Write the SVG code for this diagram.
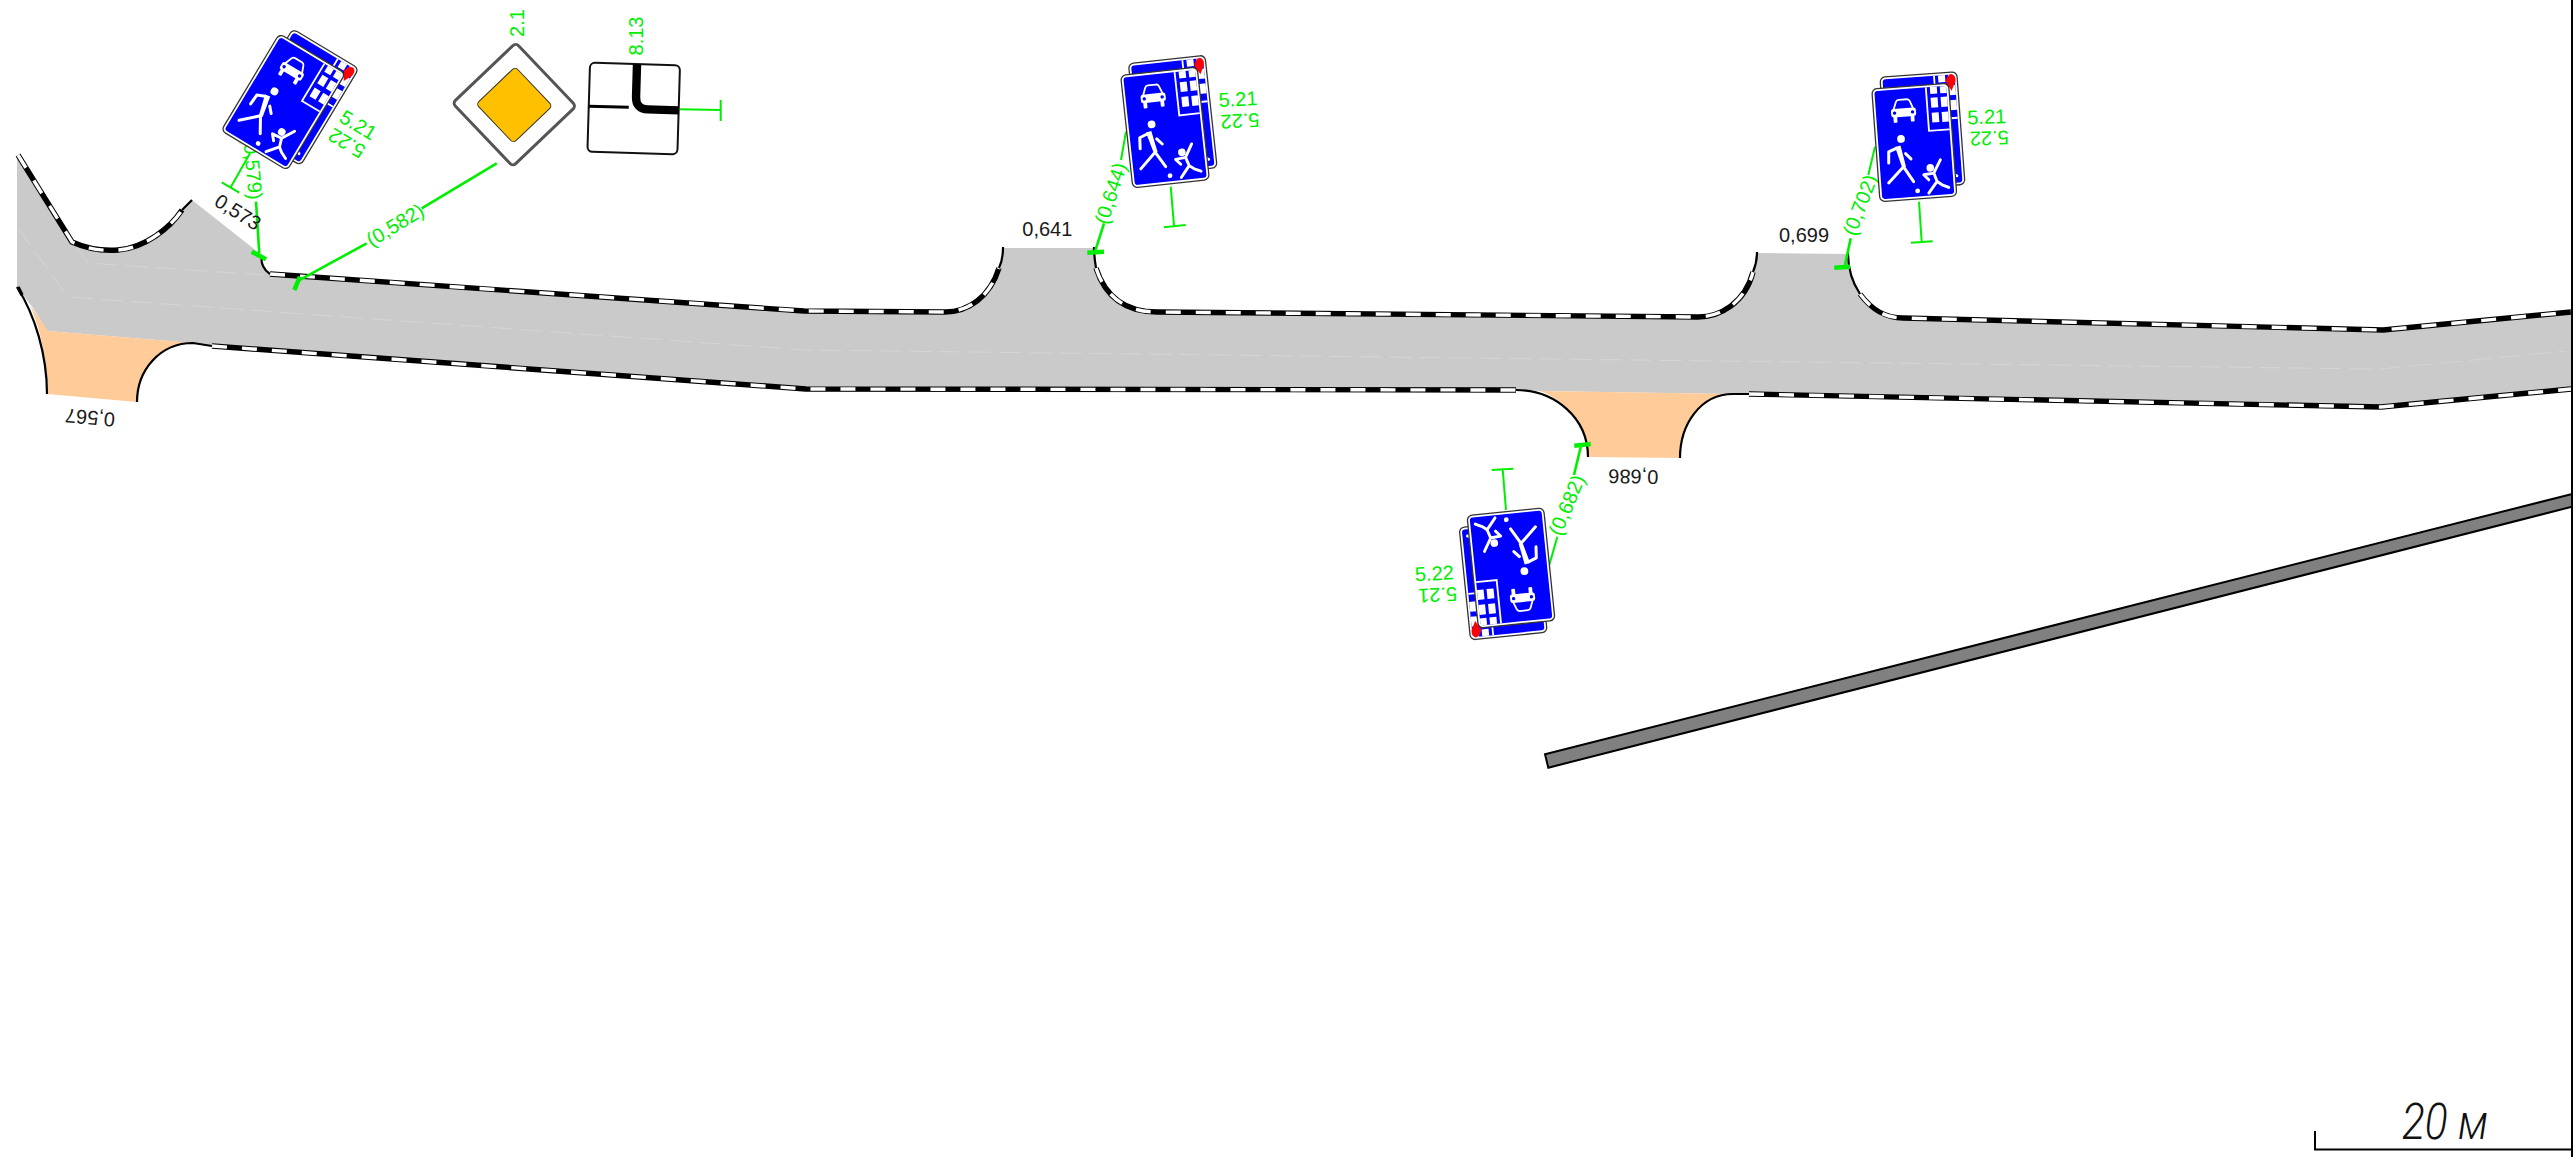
<svg xmlns="http://www.w3.org/2000/svg" xmlns:xlink="http://www.w3.org/1999/xlink" width="2573" height="1157" viewBox="0 0 2573 1157">
<style>
text{font-family:"Liberation Sans",Arial,sans-serif;font-size:20px;text-anchor:middle;dominant-baseline:central}
.g{fill:#00ee00}
.k{fill:#1a1a1a}
.ed{fill:none;stroke:#000;stroke-width:2.2}
.st{fill:none;stroke:#000;stroke-width:5.4}
.wd{fill:none;stroke:#fff;stroke-width:3.4;stroke-dasharray:15 15}
.cl{fill:none;stroke:#d6d6d6;stroke-width:.9;stroke-dasharray:22 8}
.l1{fill:none;stroke:#00ee00;stroke-width:2}
.l2{fill:none;stroke:#00ee00;stroke-width:2.6}
.l3{fill:none;stroke:#00ee00;stroke-width:4.5}
.w{fill:none;stroke:#fff;stroke-linecap:round;stroke-linejoin:round}
</style>
<defs>
<g id="sign" transform="translate(-38.5,-56.5)">
<rect x="0" y="0" width="77" height="113" rx="5" fill="#fff" stroke="#333" stroke-width="1.3"/>
<rect x="2.4" y="2.4" width="72.2" height="108.2" rx="3" fill="#0000ff"/>
<path d="M54,2.4V46H74.6" fill="none" stroke="#fff" stroke-width="1.8"/>
<g fill="#fff">
<rect x="58" y="2.4" width="7" height="7"/><rect x="58" y="13" width="7" height="10"/><rect x="58" y="28" width="7" height="10"/>
<rect x="68" y="2.4" width="6.6" height="7"/><rect x="68" y="13" width="6.6" height="10"/><rect x="68" y="28" width="6.6" height="10"/>
<path d="M20,21.5H40Q42.5,21.5 42.5,24V28Q42.5,30 40,30H20Q17.5,30 17.5,28V24Q17.5,21.5 20,21.5Z"/>
<rect x="19.5" y="29" width="3.8" height="6.5" rx="1"/><rect x="36.7" y="29" width="3.8" height="6.5" rx="1"/>
<circle cx="25.5" cy="52" r="3.9"/><circle cx="52.6" cy="83" r="3.8"/><circle cx="38.3" cy="105" r="2.4"/>
<path d="M19,59.5L24.5,58.5L28.5,80L24.5,80.5Z"/>
</g>
<circle cx="21" cy="25.8" r="1.7" fill="#0000ff"/><circle cx="39" cy="25.8" r="1.7" fill="#0000ff"/>
<path class="w" stroke-width="1.8" d="M20.5,21.5L23,15Q23.8,12.8 26,12.8H34Q36.2,12.8 37,15L39.5,21.5"/>
<path class="w" stroke-width="3" d="M20,61L12.3,64L11.5,75M29,67L34,72.6M26,80L10,95M26,80L35,95.5"/>
<path class="w" stroke-width="2.9" d="M63.2,75.7L55.7,88.4L58.4,97L49.3,108M58.4,97L63.1,100.7L69.6,103.8M55.7,88.4L45.6,89.4L50.2,94.8"/>
</g>
<g id="signback">
<use xlink:href="#sign" href="#sign"/>
<path d="M33,-54.5Q37.5,-53 36.5,-47L32,-38L27,-47Q28,-54 33,-54.5Z" fill="#ff0000"/>
</g>
</defs>

<g id="road">
<path id="road-surface" fill="#cacaca" d="M17,155L72,242C105,258 150,250 192,200L258,252C260,262 264,270 270,274L804,311L945,312C975,312 1003,290 1003,248H1094C1094,285 1120,312 1157,312L1698,317C1730,317 1757,290 1757,253L1848,254C1848,290 1870,318 1903,318L2383,330L2571,312V389L2381,407L1749,394L1727,394L1540,391L1517,390L806,389L212,346L193,343L47,331L33,308L17,287Z"/>
<path id="crossing-sw" fill="#ffcc99" d="M193,343C160,343 137,370 137,402L47,394C47,365 43,335 30,305L48,331Z"/>
<path id="crossing-s" fill="#ffcc99" d="M1733,394C1700,394 1680,425 1680,458L1588,457C1588,425 1565,400 1540,391Z"/>
<path class="cl" d="M17,227L68,297L804,350L2380,369L2566,351"/>
<path class="cl" d="M75,245L88,263L263,275"/>
<path class="st" d="M18,155L72,242C90,250 105,251 118,250C145,248 170,228 182,210"/>
<path class="wd" d="M18,155L72,242C90,250 105,251 118,250C145,248 170,228 182,210"/>
<path class="st" d="M270,274L804,311L945,312C968,312 990,297 999,268"/>
<path class="wd" d="M270,274L804,311L945,312C968,312 990,297 999,268"/>
<path class="st" d="M1096,268C1105,296 1125,312 1157,312L1698,317C1720,317 1745,303 1753,272"/>
<path class="wd" d="M1096,268C1105,296 1125,312 1157,312L1698,317C1720,317 1745,303 1753,272"/>
<path class="st" d="M1860,294C1872,310 1885,318 1903,318L2383,330L2571,312"/>
<path class="wd" d="M1860,294C1872,310 1885,318 1903,318L2383,330L2571,312"/>
<path class="st" d="M212,346L806,389L1516,390"/>
<path class="wd" d="M212,346L806,389L1516,390"/>
<path class="st" d="M1749,394L2381,407L2571,389"/>
<path class="wd" d="M1749,394L2381,407L2571,389"/>
<path class="ed" d="M182,210L192,200M262,255C260,263 264,270 270,274M999,268C1002,262 1003,255 1003,247M1094,247C1094,255 1095,262 1096,268M1753,272C1756,265 1757,260 1757,252M1848,253C1848,268 1852,282 1860,294"/>
<path class="ed" d="M212,346L193,343C160,343 137,370 137,402M17,287C35,315 47,355 47,394M1516,390C1555,390 1588,418 1588,457M1749,394L1733,394C1700,394 1680,425 1680,458"/>
<path d="M18,287L22,295" fill="none" stroke="#000" stroke-width="3.5"/>
</g>

<g id="connectors">
<path class="l2" d="M496.7,163.3L421.7,208.3M366.7,243.3L296.7,281.7"/>
<path class="l3" d="M294.3,290L300,276.7"/>
<path class="l1" d="M680,109.3L720.7,110M720.7,100V121"/>
<path class="l1" d="M1126,131.7L1121,160"/>
<path class="l2" d="M1104,223.3L1095,251.7"/>
<path class="l3" d="M1087.3,252.7L1104,251.7"/>
<path class="l1" d="M1170.7,186.7L1174,225.7M1164,227.3L1185.7,225"/>
<path class="l1" d="M1875,146.7L1868.3,175"/>
<path class="l2" d="M1850.7,238.3L1845,265"/>
<path class="l3" d="M1834.3,267.7L1850,266.7"/>
<path class="l1" d="M1919,201.7L1921.7,241.7M1911,242.7L1932.7,241.3"/>
<path class="l1" d="M1506,510L1502.7,469.3M1491.7,470L1513.3,468.7"/>
<path class="l1" d="M1549.3,565L1557.3,536.7"/>
<path class="l2" d="M1574,475L1581,445.7"/>
<path class="l3" d="M1574.3,445.7L1590.7,444"/>
<path class="l1" d="M250,153.3L231,186.7M221.7,182.3L239.3,192.7"/>
<path class="l2" d="M256,201.7L259.3,253.3"/>
<path class="l3" d="M251.7,251.7L266,259.3"/>
</g>

<g id="label-0579"><text class="g" transform="translate(253,168) rotate(85)">(0,579)</text></g>
<g id="label-0573"><text class="k" transform="translate(238,212) rotate(32)">0,573</text></g>
<g id="label-0582"><text class="g" transform="translate(395,225) rotate(-31)">(0,582)</text></g>
<g id="label-0644"><text class="g" transform="translate(1110.7,193.3) rotate(-72)">(0,644)</text></g>
<g id="label-0702"><text class="g" transform="translate(1860,205) rotate(-69)">(0,702)</text></g>
<g id="label-0682"><text class="g" transform="translate(1566.7,505) rotate(-67)">(0,682)</text></g>
<g id="label-0641"><text class="k" x="1047.3" y="229">0,641</text></g>
<g id="label-0699"><text class="k" x="1804" y="235">0,699</text></g>
<g id="label-0567"><text class="k" transform="translate(90,417.7) rotate(185)">0,567</text></g>
<g id="label-0686"><text class="k" transform="translate(1633.3,476.7) rotate(181)">0,686</text></g>

<g id="signs-a" transform="translate(283.3,102) rotate(31)">
<use xlink:href="#signback" href="#signback" transform="translate(9,-11)"/>
<use xlink:href="#sign" href="#sign"/>
</g>
<g id="signs-a-text">
<text class="g" transform="translate(358.3,125) rotate(31)">5.21</text>
<text class="g" transform="translate(346.7,143.3) rotate(211)">5.22</text>
</g>

<g id="sign-2-1">
<rect x="-43.7" y="-43.7" width="87.4" height="87.4" rx="4" transform="translate(514.3,104.6) rotate(46.4)" fill="#fff" stroke="#555" stroke-width="3"/>
<rect x="-27" y="-27" width="54" height="54" rx="4" transform="translate(514.3,105) rotate(46.4)" fill="#ffc000" stroke="#333" stroke-width="1"/>
<text class="g" transform="translate(516.7,23) rotate(-90)">2.1</text>
</g>

<g id="sign-8-13">
<g transform="translate(633.7,108.5) rotate(1.7)">
<rect x="-45" y="-44.5" width="90" height="89" rx="5" fill="#fff" stroke="#111" stroke-width="2"/>
<path d="M2,-44.5V-12Q2,0.5 14,0.5H45" fill="none" stroke="#000" stroke-width="8.4"/>
<path d="M-45,-1H-5" fill="none" stroke="#000" stroke-width="3"/>
</g>
<text class="g" transform="translate(636,36) rotate(-90)">8.13</text>
</g>

<g id="signs-b" transform="translate(1165,127.5) rotate(-6.2)">
<use xlink:href="#signback" href="#signback" transform="translate(9,-11)"/>
<use xlink:href="#sign" href="#sign"/>
</g>
<g id="signs-b-text">
<text class="g" transform="translate(1238,99) rotate(-3)">5.21</text>
<text class="g" transform="translate(1240,121) rotate(177)">5.22</text>
</g>

<g id="signs-c" transform="translate(1914.3,142.5) rotate(-4.2)">
<use xlink:href="#signback" href="#signback" transform="translate(9,-11)"/>
<use xlink:href="#sign" href="#sign"/>
</g>
<g id="signs-c-text">
<text class="g" transform="translate(1986.7,116.7) rotate(-2)">5.21</text>
<text class="g" transform="translate(1989.3,138.3) rotate(178)">5.22</text>
</g>

<g id="signs-d" transform="translate(1511,568) rotate(174.2)">
<use xlink:href="#signback" href="#signback" transform="translate(9,-11)"/>
<use xlink:href="#sign" href="#sign"/>
</g>
<g id="signs-d-text">
<text class="g" transform="translate(1434.3,573.3) rotate(-3)">5.22</text>
<text class="g" transform="translate(1437.7,595) rotate(177)">5.21</text>
</g>

<g id="barrier"><path d="M1545,754.3L1548.3,767.7L2572,506.7V494Z" fill="#808080" stroke="#000" stroke-width="2"/></g>
<g id="frame"><path d="M2572,0V1157" fill="none" stroke="#000" stroke-width="2"/></g>
<g id="scale">
<path d="M2315,1131V1149.5H2572" fill="none" stroke="#000" stroke-width="2"/>
<text x="2445" y="1122" textLength="86" lengthAdjust="spacingAndGlyphs" style="font-family:Roboto,'Liberation Sans',sans-serif;font-style:italic;font-weight:300;font-size:49px;fill:#111">20 м</text>
</g>
</svg>
